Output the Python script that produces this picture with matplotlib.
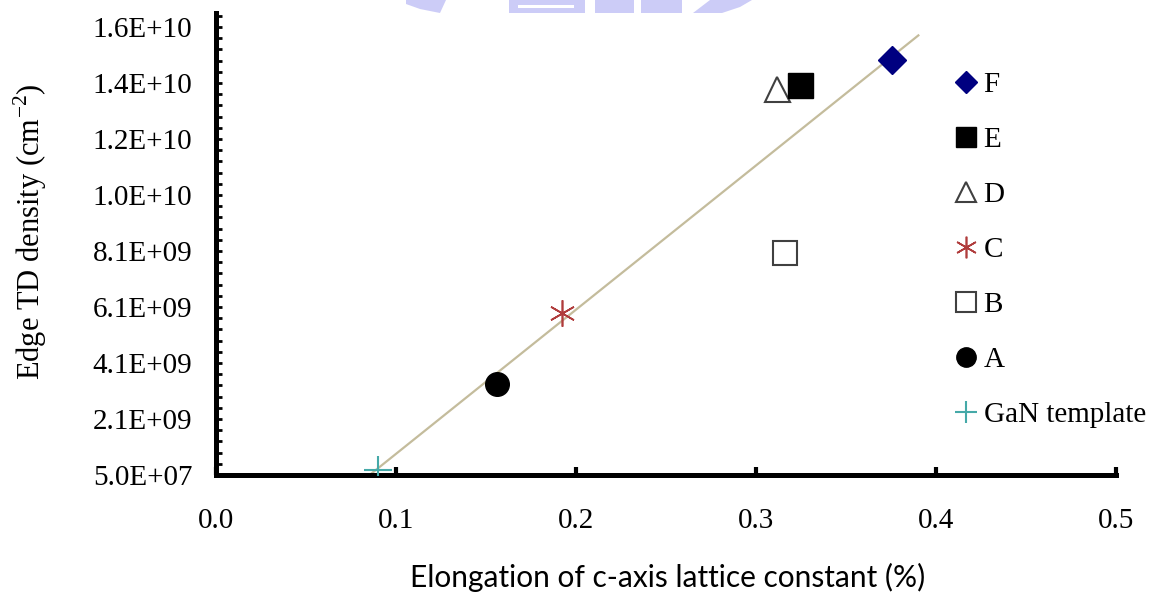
import matplotlib
matplotlib.use('Agg')
import matplotlib.pyplot as plt
from matplotlib.ticker import FixedLocator, MultipleLocator
from matplotlib.patches import Polygon

# data
samples = ['GaN template', 'A', 'B', 'C', 'D', 'E', 'F']
elongation = [0.0898, 0.1563, 0.3161, 0.1924, 0.3118, 0.3246, 0.3757]
edge_td = [2.3e8, 3.29e9, 7.98e9, 5.82e9, 1.385e10, 1.397e10, 1.486e10]

fit_x = [0.0865, 0.3902]
fit_y = [1.1e8, 1.575e10]

y_ticks = [5.0e7, 2.05e9, 4.05e9, 6.05e9, 8.05e9, 1.005e10, 1.205e10, 1.405e10, 1.605e10]
y_tick_labels = ['5.0E+07', '2.1E+09', '4.1E+09', '6.1E+09', '8.1E+09',
                 '1.0E+10', '1.2E+10', '1.4E+10', '1.6E+10']
x_ticks = [0.0, 0.1, 0.2, 0.3, 0.4, 0.5]
x_tick_labels = ['0.0', '0.1', '0.2', '0.3', '0.4', '0.5']

# marker look for each sample
styles = {
    'GaN template': dict(marker='+', color='#45a9a8', ms=20, mew=1.5),
    'A': dict(marker='o', color='black', ms=17),
    'B': dict(marker='s', mfc='white', mec='#404040', ms=17, mew=1.5),
    'C': dict(marker=(6, 2, 0), color='#b03c3c', ms=19, mew=1.2),
    'D': dict(marker='^', mfc='white', mec='#404040', ms=18, mew=1.5),
    'E': dict(marker='s', color='black', ms=18),
    'F': dict(marker='D', color='#000080', ms=14),
}

plt.rcParams['mathtext.fontset'] = 'custom'
plt.rcParams['mathtext.rm'] = 'Liberation Serif'
serif = 'Liberation Serif'

W, H = 1154, 592
fig = plt.figure(figsize=(W / 100, H / 100), dpi=100)
ax = fig.add_axes([216 / W, (H - 475) / H, 900 / W, 462 / H])

ax.plot(fit_x, fit_y, color='#c4bc9c', lw=1.6, zorder=1)

handles = []
for name, x, y in zip(samples, elongation, edge_td):
    h, = ax.plot([x], [y], ls='none', label=name, zorder=3, **styles[name])
    handles.append(h)

ax.set_xlim(0, 0.5)
ax.set_ylim(5.0e7, 1.655e10)

for s in ['top', 'right']:
    ax.spines[s].set_visible(False)
for s in ['left', 'bottom']:
    ax.spines[s].set_linewidth(3.6)
    ax.spines[s].set_capstyle('projecting')

ax.xaxis.set_major_locator(FixedLocator(x_ticks))
ax.set_xticklabels(x_tick_labels)
ax.yaxis.set_major_locator(FixedLocator(y_ticks))
ax.set_yticklabels(y_tick_labels)
ax.yaxis.set_minor_locator(MultipleLocator(4e8, offset=5e7))

ax.tick_params(axis='y', which='both', direction='in', length=4.5, width=2, pad=17)
ax.tick_params(axis='x', which='major', direction='in', length=5.5, width=3, pad=24)
for lab in ax.get_xticklabels() + ax.get_yticklabels():
    lab.set_fontfamily(serif)
    lab.set_fontsize(21)

ax.set_ylabel('Edge TD density (cm$^{\\mathregular{-2}}$)', fontfamily=serif, fontsize=22)
ax.yaxis.set_label_coords((30 - 216) / 900, (475 - 232) / 462)
ax.yaxis.label.set_va('center')
ax.set_xlabel('Elongation of c-axis lattice constant (%)', fontfamily='Lato', fontsize=21.5)
ax.xaxis.set_label_coords((668 - 216) / 900, (475 - 577) / 462)
ax.xaxis.label.set_va('center')

leg = ax.legend(handles[::-1], [h.get_label() for h in handles[::-1]],
                loc='upper left', bbox_to_anchor=(953 / W, 1 - 72 / H),
                bbox_transform=fig.transFigure, frameon=False,
                prop={'family': serif, 'size': 21}, markerscale=0.82,
                handlelength=0.9, handletextpad=0.15, labelspacing=0.98,
                borderpad=0, borderaxespad=0, numpoints=1)

# faint watermark pieces clipped at the top edge
wm = '#ccccf7'
pieces = [
    [(406, 0), (446, 0), (440, 13), (420, 9), (406, 4)],
    [(509, 0), (585, 0), (585, 5), (509, 5)],
    [(509, 8), (585, 8), (585, 13), (509, 13)],
    [(509, 5), (518, 5), (518, 8), (509, 8)],
    [(574, 5), (585, 5), (585, 8), (574, 8)],
    [(595, 0), (634, 0), (634, 13), (595, 13)],
    [(641, 0), (682, 0), (682, 13), (641, 13)],
    [(693, 13), (710, 0), (752, 0), (740, 7), (722, 13)],
]
for p in pieces:
    fig.add_artist(Polygon([(px / W, 1 - py / H) for px, py in p],
                           closed=True, transform=fig.transFigure,
                           facecolor=wm, edgecolor='none'))

fig.savefig('out.png', dpi=100)
